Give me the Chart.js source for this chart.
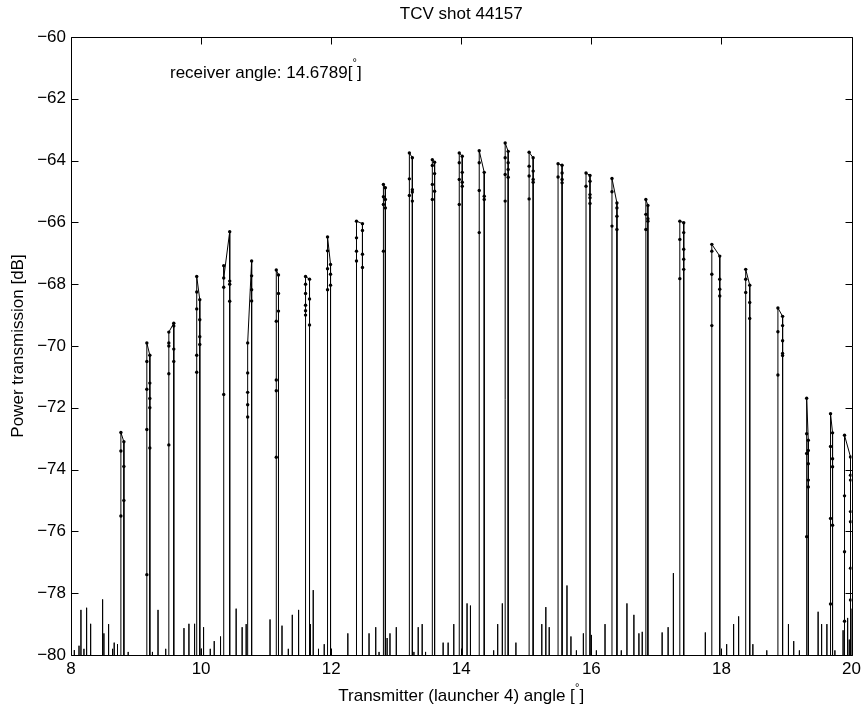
<!DOCTYPE html>
<html>
<head>
<meta charset="utf-8">
<script src="https://cdn.jsdelivr.net/npm/chart.js@4.4.1/dist/chart.umd.min.js"></script>
<style>
  html, body { margin: 0; padding: 0; background: #fff; }
  #wrap { width: 865px; height: 707px; }
</style>
</head>
<body>
<div id="wrap"><canvas id="chart" width="865" height="707"></canvas></div>
<script>
// axis ticks
const xTicks = [8, 10, 12, 14, 16, 18, 20];
const yTicks = [-80, -78, -76, -74, -72, -70, -68, -66, -64, -62, -60];

// main spikes: angle of the rising line, angle of the falling line,
// values met on the way up and on the way down [dB]
const spikeUpX   = [8.767, 9.166, 9.504, 9.933, 10.348, 10.716, 11.156, 11.606, 11.944, 12.389,
                    12.803, 13.202, 13.555, 13.969, 14.276, 14.675, 15.043, 15.488, 15.918, 16.317,
                    16.838, 17.36, 17.852, 18.373, 18.868, 19.31, 19.677, 19.892];
const spikeDownX = [8.813, 9.212, 9.58, 9.98, 10.44, 10.777, 11.19, 11.667, 11.99, 12.481,
                    12.833, 13.248, 13.59, 14.015, 14.353, 14.721, 15.105, 15.55, 15.979, 16.393,
                    16.869, 17.42, 17.974, 18.435, 18.94, 19.335, 19.708, 19.984];
const spikeUp = [
  [-75.5, -73.4, -72.8],
  [-77.4, -72.7, -71.4, -70.5, -69.9],
  [-73.2, -70.9, -70.0, -69.9, -69.55],
  [-70.85, -70.3, -68.8, -68.25, -67.75],
  [-71.57, -68.1, -67.4, -67.8],
  [-72.3, -71.9, -71.5, -70.87, -69.9],
  [-73.6, -71.45, -71.1, -69.2, -67.54],
  [-69.0, -68.86, -68.68, -68.3, -68.0, -67.75],
  [-68.18, -67.5, -66.92, -66.47],
  [-67.25, -66.93, -66.5, -65.96],
  [-66.93, -65.42, -65.17, -64.77],
  [-65.13, -64.59, -63.75],
  [-65.26, -64.77, -64.16, -63.97],
  [-65.42, -64.61, -64.07, -63.75],
  [-66.33, -64.97, -64.07, -63.68],
  [-65.31, -64.45, -63.91, -63.43],
  [-65.24, -64.5, -64.18, -63.73],
  [-64.53, -64.1],
  [-64.83, -64.4],
  [-66.12, -65.01, -64.58],
  [-66.23, -65.74, -65.26],
  [-67.82, -66.55, -65.96],
  [-69.34, -67.68, -66.93, -66.71],
  [-68.27, -67.84, -67.52],
  [-70.94, -69.54, -68.77],
  [-76.17, -73.48, -72.84, -71.69],
  [-78.35, -75.58, -73.25, -72.19],
  [-78.91, -76.66, -74.85, -72.89]
];
const spikeDown = [
  [-73.1, -73.9, -75.0],
  [-70.3, -71.2, -71.7, -72.0, -73.3],
  [-69.26, -69.35, -70.1, -70.5],
  [-68.5, -69.15, -69.7, -69.95],
  [-66.3, -67.9, -68.0, -68.55],
  [-67.25, -67.73, -68.18, -68.54],
  [-67.7, -68.3, -68.87],
  [-67.84, -68.48, -69.32],
  [-67.36, -67.68, -68.03],
  [-66.04, -66.26, -67.03, -67.46],
  [-64.88, -65.26, -65.53],
  [-63.91, -64.94, -65.02, -65.31],
  [-64.05, -64.42, -64.99],
  [-63.86, -64.38, -64.7, -64.83],
  [-64.38, -65.15, -65.26],
  [-63.7, -64.07, -64.29, -64.54],
  [-63.91, -64.34, -64.61, -64.7],
  [-64.15, -64.4, -64.61, -64.72],
  [-64.48, -64.67, -65.1, -65.2, -65.39],
  [-65.37, -65.53, -65.8, -66.23],
  [-65.45, -65.88, -65.96],
  [-66.01, -66.33, -66.87, -67.19, -67.52],
  [-67.09, -67.84, -68.16, -68.38],
  [-68.03, -68.59, -69.11],
  [-69.04, -69.34, -69.83, -70.24, -70.31],
  [-73.05, -73.38, -73.81, -74.34, -74.56],
  [-72.81, -73.65, -73.91, -75.8],
  [-73.59, -74.18, -74.34, -75.36, -75.69, -77.19, -78.22]
];

// small noise spikes near the floor
const noiseX = [8.051, 8.123, 8.153, 8.199, 8.24, 8.302, 8.486, 8.506, 8.578, 8.639, 8.664, 8.715,
                8.879, 9.252, 9.338, 9.456, 9.737, 9.813, 9.9, 10.003, 10.038, 10.141, 10.202, 10.299,
                10.539, 10.631, 10.693, 11.06, 11.244, 11.341, 11.402, 11.499, 11.68, 11.724, 11.805, 11.893,
                12.256, 12.582, 12.685, 12.736, 12.86, 12.904, 13.001, 13.272, 13.338, 13.399, 13.451,
                13.721, 13.798, 13.885, 14.089, 14.141, 14.498, 14.56, 14.631, 14.84, 15.238, 15.3, 15.352,
                15.625, 15.686, 15.77, 15.877, 16.0, 16.077, 16.21, 16.46, 16.547, 16.654, 16.731, 16.782,
                17.088, 17.18, 17.261, 17.752, 18.0, 18.08, 18.187, 18.264, 18.483, 18.697, 19.03, 19.111,
                19.198, 19.486, 19.54, 19.621, 19.744, 19.87, 19.94, 19.965, 19.995];
const noiseY = [-79.84, -79.7, -78.54, -79.8, -78.47, -78.99, -78.2, -79.3, -79.0, -79.8, -79.6, -79.65,
                -79.9, -79.9, -78.54, -79.8, -79.13, -78.99, -78.99, -79.8, -79.1, -79.8, -79.55, -79.4,
                -78.5, -79.1, -79.0, -78.85, -79.05, -79.8, -78.7, -78.54, -79.0, -77.9, -79.8, -79.65,
                -79.3, -79.3, -79.1, -79.9, -79.45, -79.3, -79.1, -79.9, -79.1, -79.0, -79.9,
                -79.6, -79.6, -79.0, -78.33, -78.4, -79.85, -79.0, -78.33, -79.6, -79.0, -78.45, -79.1,
                -77.75, -79.4, -79.85, -79.3, -79.35, -79.85, -79.0, -79.85, -78.33, -78.7, -79.3, -79.25,
                -79.27, -79.1, -77.35, -79.27, -79.85, -79.65, -79.0, -78.75, -79.65, -79.85, -79.0, -79.55,
                -79.85, -78.6, -79.0, -79.0, -79.85, -79.2, -78.8, -79.5, -78.5];

const FLOOR = -90; // trace floor, below the axis

// build the trace in angle order
const groups = [];
spikeUpX.forEach((xl, i) => {
  const xr = spikeDownX[i];
  const pts = [{ x: xl, y: FLOOR }];
  spikeUp[i].forEach(v => pts.push({ x: xl, y: v, d: 1 }));
  spikeDown[i].forEach(v => pts.push({ x: xr, y: v, d: 1 }));
  pts.push({ x: xr, y: FLOOR });
  groups.push({ x: xl, pts });
});
noiseX.forEach((x, i) => {
  groups.push({ x, pts: [{ x, y: FLOOR }, { x, y: noiseY[i] }, { x, y: FLOOR }] });
});
groups.sort((a, b) => a.x - b.x);
const trace = [];
groups.forEach(g => g.pts.forEach(p => trace.push(p)));

const FONT = "'Liberation Sans', Arial, Helvetica, sans-serif";
const FS = 17;

const frame = {
  id: "frame",
  afterDraw(chart) {
    const { ctx, chartArea: a, scales } = chart;
    ctx.save();
    ctx.strokeStyle = "#000";
    ctx.lineWidth = 1;
    ctx.beginPath();
    const L = Math.round(a.left) + 0.5, R = Math.round(a.right) + 0.5;
    const T = Math.round(a.top) + 0.5, B = Math.round(a.bottom) + 0.5;
    ctx.rect(L, T, R - L, B - T);
    const tl = 7;
    xTicks.forEach(v => {
      const px = Math.round(scales.x.getPixelForValue(v)) + 0.5;
      ctx.moveTo(px, B); ctx.lineTo(px, B - tl);
      ctx.moveTo(px, T); ctx.lineTo(px, T + tl);
    });
    yTicks.forEach(v => {
      const py = Math.round(scales.y.getPixelForValue(v)) + 0.5;
      ctx.moveTo(L, py); ctx.lineTo(L + tl, py);
      ctx.moveTo(R, py); ctx.lineTo(R - tl, py);
    });
    ctx.stroke();

    // texts
    ctx.fillStyle = "#000";
    ctx.font = FS + "px " + FONT;
    ctx.textBaseline = "alphabetic";
    ctx.textAlign = "center";
    ctx.fillText("TCV shot 44157", (a.left + a.right) / 2, 19);

    // x title with degree above the brackets
    const xt1 = "Transmitter (launcher 4) angle [";
    const xt = xt1 + " ]";
    const wx = ctx.measureText(xt).width;
    const x0 = (a.left + a.right) / 2 - wx / 2;
    ctx.textAlign = "left";
    ctx.fillText(xt, x0, 701);
    const degX = x0 + ctx.measureText(xt1).width + ctx.measureText(" ").width / 2;

    // annotation
    const at1 = "receiver angle: 14.6789[";
    ctx.fillText(at1 + " ]", 170, 78);
    const degA = 170 + ctx.measureText(at1).width + ctx.measureText(" ").width / 2;

    ctx.font = "11px " + FONT;
    ctx.textAlign = "center";
    ctx.fillText("\u00B0", degX, 691);
    ctx.fillText("\u00B0", degA, 66);

    // y title
    ctx.font = FS + "px " + FONT;
    ctx.translate(23, (a.top + a.bottom) / 2);
    ctx.rotate(-Math.PI / 2);
    ctx.fillText("Power transmission [dB]", 0, 0);
    ctx.restore();
  }
};

new Chart(document.getElementById("chart"), {
  type: "line",
  data: {
    datasets: [{
      data: trace,
      borderColor: "#000",
      borderWidth: 1,
      pointRadius: c => (c.raw && c.raw.d ? 1.7 : 0),
      pointBackgroundColor: "#000",
      pointBorderWidth: 0,
      pointHoverRadius: 0,
      tension: 0
    }]
  },
  options: {
    responsive: false,
    animation: false,
    devicePixelRatio: 1,
    parsing: { xAxisKey: "x", yAxisKey: "y" },
    layout: { padding: { top: 37, right: 11, left: 0, bottom: 0 } },
    plugins: { legend: { display: false }, tooltip: { enabled: false }, title: { display: false } },
    events: [],
    scales: {
      x: {
        type: "linear",
        min: 8, max: 20,
        afterBuildTicks: s => { s.ticks = xTicks.map(v => ({ value: v })); },
        afterFit: s => { s.height = 52; },
        grid: { display: false, drawTicks: false },
        border: { display: false },
        ticks: { color: "#000", padding: 4, font: { family: FONT, size: FS } }
      },
      y: {
        type: "linear",
        min: -80, max: -60,
        afterBuildTicks: s => { s.ticks = yTicks.map(v => ({ value: v })); },
        afterFit: s => { s.width = 71; },
        grid: { display: false, drawTicks: false },
        border: { display: false },
        ticks: {
          color: "#000", padding: 5, font: { family: FONT, size: FS },
          callback: v => String(v).replace("-", "\u2212")
        }
      }
    }
  },
  plugins: [frame]
});
</script>
</body>
</html>
